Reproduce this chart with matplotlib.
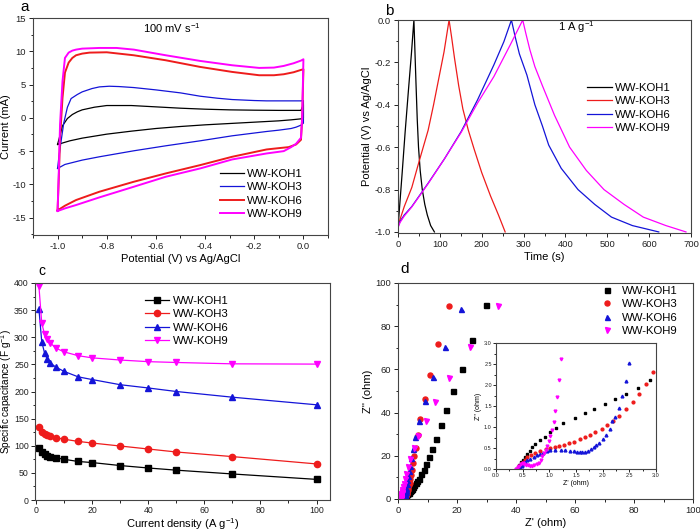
import matplotlib
matplotlib.use("Agg")
import matplotlib.pyplot as plt
from matplotlib.ticker import MultipleLocator
import numpy as np

plt.rcParams['font.family'] = ['Liberation Sans', 'DejaVu Sans']
plt.rcParams['axes.unicode_minus'] = False
plt.rcParams['mathtext.fontset'] = 'custom'
plt.rcParams['mathtext.rm'] = 'Liberation Sans'
plt.rcParams['mathtext.it'] = 'Liberation Sans:italic'

names = ["WW-KOH1", "WW-KOH3", "WW-KOH6", "WW-KOH9"]
C_BLACK, C_RED, C_BLUE, C_MAG = "#000000", "#ee1c1c", "#1414d8", "#ff00ff"

# ---------------- (a) CV at 100 mV/s ----------------
cv1_v_up = [-1.0, -0.99, -0.98, -0.96, -0.94, -0.92, -0.9, -0.85, -0.8, -0.7, -0.6, -0.5, -0.4, -0.3, -0.2, -0.1, -0.01, 0.0]
cv1_i_up = [-4.0, -2.6, -1.2, -0.1, 0.5, 0.9, 1.2, 1.6, 1.85, 1.85, 1.65, 1.45, 1.3, 1.2, 1.15, 1.12, 1.12, 2.0]
cv1_v_dn = [0.0, -0.01, -0.05, -0.1, -0.2, -0.3, -0.4, -0.5, -0.6, -0.7, -0.8, -0.9, -0.95, -1.0]
cv1_i_dn = [0.0, -0.15, -0.3, -0.45, -0.65, -0.85, -1.05, -1.3, -1.6, -2.0, -2.45, -3.05, -3.45, -4.0]

cv3_v_up = [-1.0, -0.995, -0.985, -0.975, -0.96, -0.945, -0.92, -0.9, -0.86, -0.83, -0.79, -0.75, -0.69, -0.6, -0.5, -0.42, -0.35, -0.29, -0.2, -0.15, -0.08, -0.01, 0.0]
cv3_i_up = [-7.6, -6.0, -3.3, -0.8, 1.6, 2.9, 3.5, 3.9, 4.4, 4.65, 4.75, 4.7, 4.55, 4.2, 3.75, 3.25, 2.95, 2.75, 2.6, 2.55, 2.55, 2.55, 2.6]
cv3_v_dn = [0.0, -0.01, -0.03, -0.05, -0.1, -0.15, -0.29, -0.42, -0.56, -0.69, -0.83, -0.9, -0.97, -1.0]
cv3_i_dn = [-0.8, -1.1, -1.4, -1.6, -1.85, -2.05, -2.7, -3.45, -4.2, -4.95, -5.85, -6.35, -7.0, -7.6]

cv6_v_up = [-1.0, -0.995, -0.99, -0.98, -0.97, -0.955, -0.94, -0.925, -0.9, -0.87, -0.8, -0.69, -0.56, -0.42, -0.29, -0.18, -0.12, -0.08, -0.04, -0.01, 0.0]
cv6_i_up = [-13.9, -9.0, -3.0, 3.0, 6.8, 8.3, 9.0, 9.4, 9.65, 9.8, 9.85, 9.4, 8.65, 7.65, 6.9, 6.4, 6.4, 6.55, 6.85, 7.2, 7.3]
cv6_v_dn = [0.0, -0.005, -0.01, -0.03, -0.06, -0.1, -0.15, -0.29, -0.42, -0.56, -0.69, -0.83, -0.925, -0.97, -1.0]
cv6_i_dn = [7.3, 0.0, -3.3, -4.0, -4.4, -4.55, -4.75, -5.85, -7.1, -8.35, -9.6, -11.1, -12.35, -13.2, -13.9]

cv9_v_up = [-1.0, -0.995, -0.99, -0.98, -0.97, -0.955, -0.94, -0.925, -0.9, -0.83, -0.76, -0.69, -0.56, -0.42, -0.29, -0.18, -0.12, -0.08, -0.04, -0.01, 0.0]
cv9_i_up = [-14.0, -8.0, -1.0, 5.5, 9.0, 9.8, 10.1, 10.25, 10.4, 10.5, 10.5, 10.25, 9.4, 8.55, 7.9, 7.5, 7.55, 7.8, 8.2, 8.6, 8.8]
cv9_v_dn = [0.0, -0.005, -0.01, -0.03, -0.05, -0.08, -0.15, -0.29, -0.42, -0.56, -0.69, -0.83, -0.925, -0.97, -1.0]
cv9_i_dn = [8.8, 0.0, -3.0, -3.9, -4.4, -5.0, -5.35, -6.25, -7.6, -8.85, -10.35, -11.95, -13.1, -13.6, -14.0]

# ---------------- (b) GCD at 1 A/g ----------------
gcd1_t = [0, 5, 10, 17, 25, 32, 38, 40, 43, 46, 49, 53, 58, 64, 70, 78, 87]
gcd1_v = [-0.98, -0.85, -0.72, -0.53, -0.33, -0.16, 0.0, -0.12, -0.3, -0.47, -0.6, -0.71, -0.8, -0.87, -0.92, -0.97, -1.0]
gcd3_t = [0, 5, 15, 33, 50, 72, 85, 96, 110, 122, 128, 135, 145, 155, 168, 182, 200, 221, 240, 256]
gcd3_v = [-0.97, -0.94, -0.88, -0.79, -0.67, -0.52, -0.4, -0.29, -0.15, 0.0, -0.08, -0.18, -0.31, -0.42, -0.52, -0.61, -0.72, -0.83, -0.92, -1.0]
gcd6_t = [0, 5, 15, 33, 72, 111, 151, 190, 229, 253, 271, 280, 290, 308, 327, 345, 360, 390, 430, 470, 510, 560, 623]
gcd6_v = [-0.975, -0.95, -0.92, -0.88, -0.77, -0.655, -0.526, -0.377, -0.212, -0.102, 0.0, -0.08, -0.16, -0.26, -0.4, -0.5, -0.59, -0.7, -0.8, -0.87, -0.93, -0.97, -1.0]
gcd9_t = [0, 5, 15, 33, 72, 111, 151, 190, 229, 268, 298, 305, 315, 327, 345, 374, 410, 450, 492, 540, 586, 640, 688]
gcd9_v = [-0.98, -0.955, -0.925, -0.882, -0.772, -0.655, -0.53, -0.392, -0.267, -0.118, 0.0, -0.06, -0.14, -0.22, -0.31, -0.45, -0.6, -0.71, -0.8, -0.87, -0.93, -0.97, -1.0]

# ---------------- (c) rate capability ----------------
current_density = [1, 2, 3, 4, 5, 7, 10, 15, 20, 30, 40, 50, 70, 100]
cap_koh1 = [96, 88, 85, 82, 80, 78, 75, 71, 69, 63.5, 59, 55, 48, 38]
cap_koh3 = [134, 126, 122, 120, 118, 115, 112, 108, 105, 99.5, 94, 88.5, 80, 66.5]
cap_koh6 = [352, 292, 271, 259, 253, 245, 237, 227, 222, 212.5, 206.5, 200, 189.5, 175.5]
cap_koh9 = [394, 326, 306, 297, 290, 280, 273, 266, 262, 258, 255, 253.5, 251, 250.5]

# ---------------- (d) Nyquist ----------------
z1_re = [0.38, 0.41, 0.44, 0.47, 0.5, 0.54, 0.58, 0.63, 0.68, 0.74, 0.82, 0.91, 1.01, 1.12, 1.25, 1.48, 1.66, 1.83, 2.04, 2.24, 2.44, 2.66, 2.89,
         3.1, 3.4, 3.7, 4.0, 4.3, 4.7, 5.1, 5.5, 6.0, 6.5, 7.2, 7.9, 8.7, 9.6, 10.5, 11.6, 12.9, 14.5, 16.4, 18.8, 21.8, 25.2, 29.9]
z1_im = [0.0, 0.05, 0.1, 0.16, 0.22, 0.29, 0.36, 0.44, 0.52, 0.6, 0.68, 0.77, 0.87, 0.98, 1.1, 1.22, 1.33, 1.42, 1.54, 1.66, 1.79, 1.94, 2.12,
         2.3, 2.6, 3.0, 3.5, 4.0, 4.7, 5.4, 6.3, 7.3, 8.3, 9.4, 11.4, 13.6, 16.4, 19.6, 23.3, 27.9, 34.1, 41.4, 49.8, 60.3, 73.5, 90.0]
z3_re = [0.43, 0.44, 0.49, 0.54, 0.59, 0.66, 0.74, 0.83, 0.93, 1.02, 1.1, 1.18, 1.27, 1.36, 1.46, 1.58, 1.67, 1.77, 1.86, 1.98, 2.08, 2.19, 2.31, 2.44, 2.57, 2.69, 2.82,
         2.95, 3.05, 3.2, 3.35, 3.5, 3.7, 3.9, 4.1, 4.4, 4.7, 5.1, 5.5, 6.0, 6.7, 7.6, 9.2, 11.0, 13.7, 17.3]
z3_im = [0.0, 0.06, 0.14, 0.21, 0.28, 0.33, 0.39, 0.44, 0.48, 0.51, 0.53, 0.55, 0.57, 0.61, 0.65, 0.71, 0.76, 0.81, 0.87, 0.95, 1.05, 1.15, 1.26, 1.42, 1.59, 1.79, 2.03,
         2.3, 2.8, 3.5, 4.3, 5.2, 6.3, 7.6, 9.2, 11.2, 13.6, 16.5, 19.8, 23.8, 29.5, 37.2, 46.3, 57.6, 71.9, 89.5]
z6_re = [0.45, 0.48, 0.51, 0.55, 0.59, 0.64, 0.71, 0.77, 0.83, 0.89, 0.96, 1.02, 1.11, 1.21, 1.3, 1.39, 1.47, 1.52, 1.57, 1.62, 1.67, 1.72, 1.78, 1.83, 1.88, 1.94, 2.0, 2.06, 2.13, 2.18, 2.24, 2.31, 2.36, 2.43, 2.49,
         2.56, 2.63, 2.75, 2.9, 3.1, 3.35, 3.65, 4.0, 4.5, 5.1, 5.8, 7.0, 9.2, 11.8, 15.8, 21.2]
z6_im = [0.02, 0.07, 0.11, 0.16, 0.21, 0.25, 0.29, 0.33, 0.36, 0.39, 0.43, 0.45, 0.45, 0.45, 0.45, 0.44, 0.42, 0.4, 0.4, 0.41, 0.41, 0.44, 0.48, 0.52, 0.57, 0.63, 0.72, 0.81, 0.95, 1.15, 1.25, 1.46, 1.74, 2.09, 2.52,
         3.2, 4.0, 5.3, 6.8, 8.6, 10.6, 12.9, 15.5, 18.8, 23.0, 28.6, 36.0, 45.2, 56.6, 70.5, 88.1]
z9_re = [0.38, 0.41, 0.44, 0.47, 0.5, 0.53, 0.56, 0.6, 0.64, 0.68, 0.72, 0.76, 0.8, 0.84, 0.87, 0.9, 0.93, 0.96, 0.99, 1.02, 1.05, 1.08, 1.11, 1.14, 1.175, 1.22,
         1.3, 1.45, 1.65, 1.95, 2.35, 2.8, 3.4, 4.2, 5.4, 6.8, 9.4, 12.7, 17.4, 24.4, 34.0]
z9_im = [0.0, 0.04, 0.08, 0.12, 0.14, 0.12, 0.1, 0.09, 0.08, 0.08, 0.09, 0.11, 0.15, 0.22, 0.3, 0.38, 0.46, 0.55, 0.66, 0.78, 0.93, 1.13, 1.38, 1.71, 2.12, 2.62,
         3.3, 4.3, 5.5, 7.1, 9.2, 11.7, 14.8, 18.7, 23.6, 29.3, 36.3, 44.9, 55.9, 70.5, 89.4]

W, H = 700, 532
fig = plt.figure(figsize=(W / 100, H / 100), dpi=100)

def px_axes(left, top, right, bottom):
    return fig.add_axes([left / W, 1 - bottom / H, (right - left) / W, (bottom - top) / H])

TICK_FS = 6.8
LAB_FS = 8
LEG_FS = 8.2

def style(ax, fs=TICK_FS, pad=2):
    for s in ax.spines.values():
        s.set_color("#444444")
        s.set_linewidth(0.8)
    ax.tick_params(which='major', direction='out', length=3, width=0.7, labelsize=fs, colors="#222222",
                   top=False, right=False, pad=pad)
    ax.tick_params(which='minor', direction='out', length=1.8, width=0.6, top=False, right=False)

def px_leg(ax, left_px, top_px, ax_box, **kw):
    l, t, r, b = ax_box
    anchor = ((left_px - l) / (r - l), (b - top_px) / (b - t))
    return ax.legend(loc='upper left', bbox_to_anchor=anchor, borderaxespad=0, borderpad=0,
                     frameon=False, fontsize=LEG_FS, **kw)

# ---- panel a ----
box_a = (33, 18, 328, 235)
ax = px_axes(*box_a)
style(ax)
for vu, iu, vd, idn, c, lw, n in [
        (cv1_v_up, cv1_i_up, cv1_v_dn, cv1_i_dn, C_BLACK, 0.9, names[0]),
        (cv3_v_up, cv3_i_up, cv3_v_dn, cv3_i_dn, C_BLUE, 0.9, names[1]),
        (cv6_v_up, cv6_i_up, cv6_v_dn, cv6_i_dn, C_RED, 1.4, names[2]),
        (cv9_v_up, cv9_i_up, cv9_v_dn, cv9_i_dn, C_MAG, 1.4, names[3])]:
    ax.plot(vu + vd, iu + idn, color=c, lw=lw, label=n)
ax.set_xlim(-1.1, 0.1)
ax.set_ylim(-17.6, 15)
ax.xaxis.set_minor_locator(MultipleLocator(0.1))
ax.yaxis.set_major_locator(MultipleLocator(5))
ax.yaxis.set_minor_locator(MultipleLocator(2.5))
ax.set_xticks([-1.0, -0.8, -0.6, -0.4, -0.2, 0.0])
ax.set_xticklabels(["-1.0", "-0.8", "-0.6", "-0.4", "-0.2", "0.0"])
ax.set_xlabel("Potential (V) vs Ag/AgCl", fontsize=LAB_FS, labelpad=2)
ax.set_ylabel("Current (mA)", fontsize=LAB_FS, labelpad=1)
ax.text(0.47, 0.954, r"100 mV s$^{-1}$", transform=ax.transAxes, ha='center', va='center', fontsize=LAB_FS)
px_leg(ax, 220, 169, box_a, handlelength=2.1, handletextpad=0.25, labelspacing=0.3)
fig.text(20 / W, 1 - 11 / H, "a", fontsize=11, va='baseline')

# ---- panel b ----
box_b = (398, 20, 691, 233)
ax = px_axes(*box_b)
style(ax)
for t, v, c, n in [(gcd1_t, gcd1_v, C_BLACK, names[0]), (gcd3_t, gcd3_v, C_RED, names[1]),
                   (gcd6_t, gcd6_v, C_BLUE, names[2]), (gcd9_t, gcd9_v, C_MAG, names[3])]:
    ax.plot(t, v, color=c, lw=0.9, label=n)
ax.set_xlim(0, 700)
ax.set_ylim(-1.005, 0.0)
ax.xaxis.set_major_locator(MultipleLocator(100))
ax.xaxis.set_minor_locator(MultipleLocator(50))
ax.yaxis.set_minor_locator(MultipleLocator(0.1))
ax.set_yticks([-1.0, -0.8, -0.6, -0.4, -0.2, 0.0])
ax.set_yticklabels(["-1.0", "-0.8", "-0.6", "-0.4", "-0.2", "0.0"])
ax.set_xlabel("Time (s)", fontsize=LAB_FS, labelpad=2)
ax.set_ylabel("Potential (V) vs Ag/AgCl", fontsize=LAB_FS, labelpad=2)
ax.text((576 - 398) / 293, 0.965, r"1 A g$^{-1}$", transform=ax.transAxes, ha='center', va='center', fontsize=LAB_FS)
px_leg(ax, 587, 83, box_b, handlelength=2.2, handletextpad=0.25, labelspacing=0.3)
fig.text(385 / W, 1 - 15 / H, "b", fontsize=11, va='baseline')

# ---- panel c ----
box_c = (35, 283, 330, 500)
ax = px_axes(*box_c)
style(ax, fs=6.3, pad=1.5)
for y, c, m, n in [(cap_koh1, C_BLACK, 's', names[0]), (cap_koh3, C_RED, 'o', names[1]),
                   (cap_koh6, C_BLUE, '^', names[2]), (cap_koh9, C_MAG, 'v', names[3])]:
    ax.plot(current_density, y, color=c, marker=m, ms=4.5, lw=0.9, label=n)
ax.set_xlim(-0.4, 104.8)
ax.set_ylim(0, 400)
ax.xaxis.set_major_locator(MultipleLocator(20))
ax.xaxis.set_minor_locator(MultipleLocator(10))
ax.yaxis.set_major_locator(MultipleLocator(50))
ax.yaxis.set_minor_locator(MultipleLocator(25))
ax.set_xlabel(r"Current density (A g$^{-1}$)", fontsize=LAB_FS, labelpad=1)
ax.set_ylabel(r"Specific capacitance (F g$^{-1}$)", fontsize=7.2)
ax.yaxis.set_label_coords((14.5 - 35) / 295, 0.5)
px_leg(ax, 145, 296, box_c, handlelength=2.1, handletextpad=0.35, labelspacing=0.3)
fig.text(38 / W, 1 - 275 / H, "c", fontsize=10, va='baseline')

# ---- panel d ----
box_d = (398, 283, 693, 499)
ax = px_axes(*box_d)
style(ax)
for x, y, c, m, n in [(z1_re, z1_im, C_BLACK, 's', names[0]), (z3_re, z3_im, C_RED, 'o', names[1]),
                      (z6_re, z6_im, C_BLUE, '^', names[2]), (z9_re, z9_im, C_MAG, 'v', names[3])]:
    ax.plot(x, y, ls='none', color=c, marker=m, ms=3.6, label=n)
ax.set_xlim(0, 100)
ax.set_ylim(0, 100)
ax.xaxis.set_major_locator(MultipleLocator(20))
ax.xaxis.set_minor_locator(MultipleLocator(10))
ax.yaxis.set_major_locator(MultipleLocator(20))
ax.yaxis.set_minor_locator(MultipleLocator(10))
ax.set_xlabel("Z' (ohm)", fontsize=LAB_FS, labelpad=2)
ax.set_ylabel("Z'' (ohm)", fontsize=LAB_FS, labelpad=2)
px_leg(ax, 601, 286, box_d, handlelength=1.0, handletextpad=0.85, labelspacing=0.3)
fig.text(400 / W, 1 - 273 / H, "d", fontsize=11, va='baseline')

# inset
axi = px_axes(496, 343, 656, 469)
style(axi, fs=4)
axi.tick_params(which='major', length=2, pad=1)
axi.tick_params(which='minor', length=1.2)
for x, y, c, m in [(z1_re, z1_im, C_BLACK, 's'), (z3_re, z3_im, C_RED, 'o'),
                   (z6_re, z6_im, C_BLUE, '^'), (z9_re, z9_im, C_MAG, 'v')]:
    axi.plot(x, y, ls='none', color=c, marker=m, ms=2)
axi.set_xlim(0, 3)
axi.set_ylim(0, 3)
axi.xaxis.set_major_locator(MultipleLocator(0.5))
axi.xaxis.set_minor_locator(MultipleLocator(0.25))
axi.yaxis.set_major_locator(MultipleLocator(0.5))
axi.yaxis.set_minor_locator(MultipleLocator(0.25))
axi.set_xlabel("Z' (ohm)", fontsize=5, labelpad=1.5)
axi.set_ylabel("Z'' (ohm)", fontsize=5, labelpad=1.5)

fig.savefig("out.png", dpi=100)
